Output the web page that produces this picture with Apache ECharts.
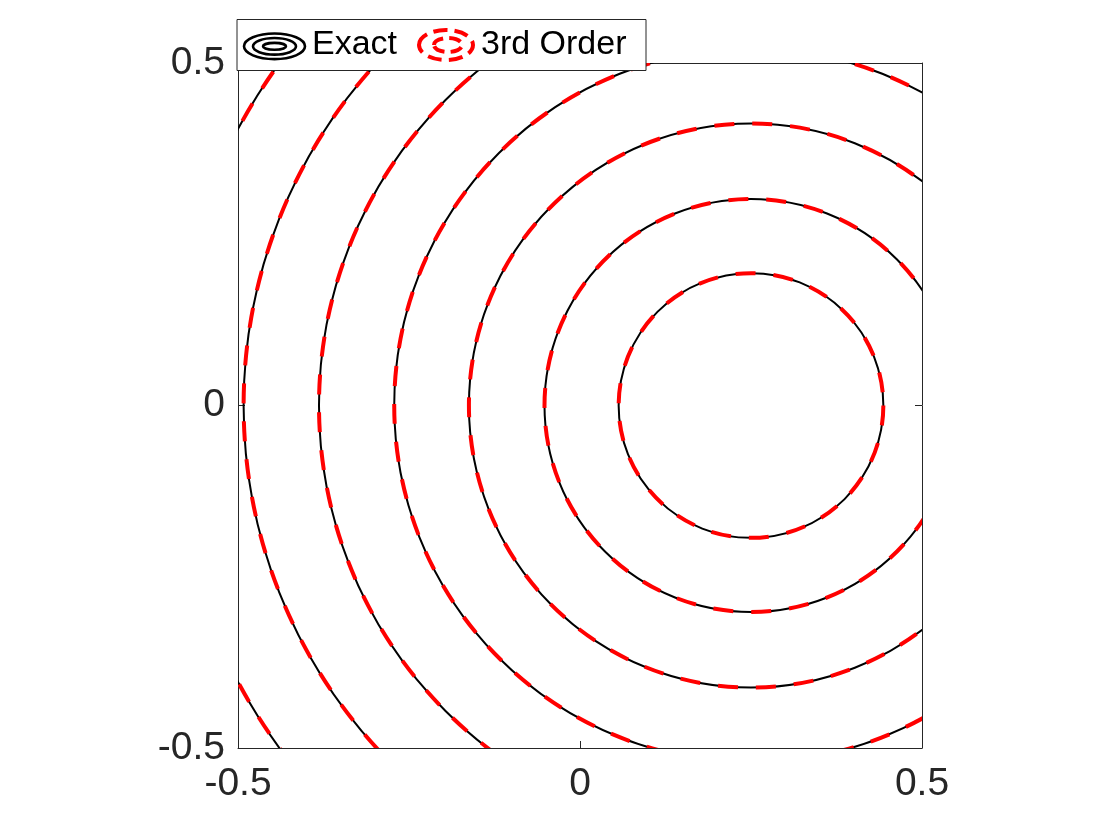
<!DOCTYPE html>
<html>
<head>
<meta charset="utf-8">
<script src="https://cdn.jsdelivr.net/npm/echarts@6/dist/echarts.min.js"></script>
<style>html,body{margin:0;padding:0;background:#fff}#c{width:1120px;height:840px}</style>
</head>
<body>
<div id="c"></div>
<script>
// contour circles: centre and radii
var centerX = 0.25;
var centerY = 0;
var exactRadii = [0.1935, 0.3019, 0.4124, 0.5216, 0.6316, 0.7418, 0.852];
var approxRadii = [0.1935, 0.3019, 0.4124, 0.5216, 0.6316, 0.7418, 0.852];
var xTicks = [-0.5, 0, 0.5];
var yTicks = [-0.5, 0, 0.5];
var legendNames = ['Exact', '3rd Order'];

var chart = echarts.init(document.getElementById('c'), null, {renderer: 'canvas'});
var axisColor = '#262626';
var FONT = '"Liberation Sans", Arial, Helvetica, sans-serif';

function toData(radii) {
  return radii.map(function (r) { return [centerX, centerY, r]; });
}
function circleRenderer(stroke, width, dash) {
  return function (params, api) {
    var c = api.coord([api.value(0), api.value(1)]);
    var s = api.size([api.value(2), api.value(2)]);
    return {
      type: 'circle',
      shape: {cx: c[0], cy: c[1], r: s[0]},
      style: {fill: null, stroke: stroke, lineWidth: width, lineDash: dash}
    };
  };
}

var baseAxis = {
  type: 'value', min: xTicks[0], max: xTicks[xTicks.length - 1], interval: 0.5,
  splitLine: {show: false},
  axisLine: {show: true, onZero: false, lineStyle: {color: axisColor, width: 1}},
  axisTick: {show: true, inside: true, length: 7, lineStyle: {color: axisColor, width: 1}}
};

var option = {
  backgroundColor: '#fff',
  animation: false,
  grid: {left: 238, top: 63, right: 198, bottom: 92},
  xAxis: [
    Object.assign({}, baseAxis, {position: 'bottom',
      axisLabel: {show: true, color: axisColor, fontSize: 39, fontFamily: FONT, margin: 17}}),
    Object.assign({}, baseAxis, {position: 'top', axisLabel: {show: false}})
  ],
  yAxis: [
    Object.assign({}, baseAxis, {position: 'left', min: yTicks[0], max: yTicks[yTicks.length - 1],
      axisLabel: {show: true, color: axisColor, fontSize: 39, fontFamily: FONT, margin: 13}}),
    Object.assign({}, baseAxis, {position: 'right', min: yTicks[0], max: yTicks[yTicks.length - 1],
      axisLabel: {show: false}})
  ],
  series: [
    {
      name: legendNames[0], type: 'custom', coordinateSystem: 'cartesian2d',
      xAxisIndex: 0, yAxisIndex: 0, clip: true, z: 2,
      encode: {x: 0, y: 1},
      renderItem: circleRenderer('#000000', 2, null),
      data: toData(exactRadii)
    },
    {
      name: legendNames[1], type: 'custom', coordinateSystem: 'cartesian2d',
      xAxisIndex: 0, yAxisIndex: 0, clip: true, z: 3,
      encode: {x: 0, y: 1},
      renderItem: circleRenderer('#ff0000', 4, [20, 18]),
      data: toData(approxRadii)
    }
  ],
  graphic: [
    {type: 'rect', z: 100, shape: {x: 237, y: 19.5, width: 409, height: 51},
      style: {fill: '#fff', stroke: axisColor, lineWidth: 1}},
    {type: 'ellipse', z: 101, shape: {cx: 274.5, cy: 46.3, rx: 30.5, ry: 12.8},
      style: {fill: null, stroke: '#000', lineWidth: 2.6}},
    {type: 'ellipse', z: 101, shape: {cx: 274.5, cy: 46.3, rx: 21.5, ry: 8.3},
      style: {fill: null, stroke: '#000', lineWidth: 2.6}},
    {type: 'ellipse', z: 101, shape: {cx: 274.5, cy: 46.3, rx: 11.5, ry: 3.4},
      style: {fill: null, stroke: '#000', lineWidth: 2.6}},
    {type: 'text', z: 101, x: 312, y: 45,
      style: {text: legendNames[0], fill: '#000', font: '34px ' + FONT, verticalAlign: 'middle', align: 'left'}},
    {type: 'ellipse', z: 101, shape: {cx: 446, cy: 45, rx: 27, ry: 15},
      style: {fill: null, stroke: '#ff0000', lineWidth: 4, lineDash: [14, 7]}},
    {type: 'ellipse', z: 101, shape: {cx: 448, cy: 45, rx: 14, ry: 7},
      style: {fill: null, stroke: '#ff0000', lineWidth: 4, lineDash: [12, 6]}},
    {type: 'text', z: 101, x: 481, y: 45,
      style: {text: legendNames[1], fill: '#000', font: '34px ' + FONT, verticalAlign: 'middle', align: 'left'}}
  ]
};
chart.setOption(option);
</script>
</body>
</html>
